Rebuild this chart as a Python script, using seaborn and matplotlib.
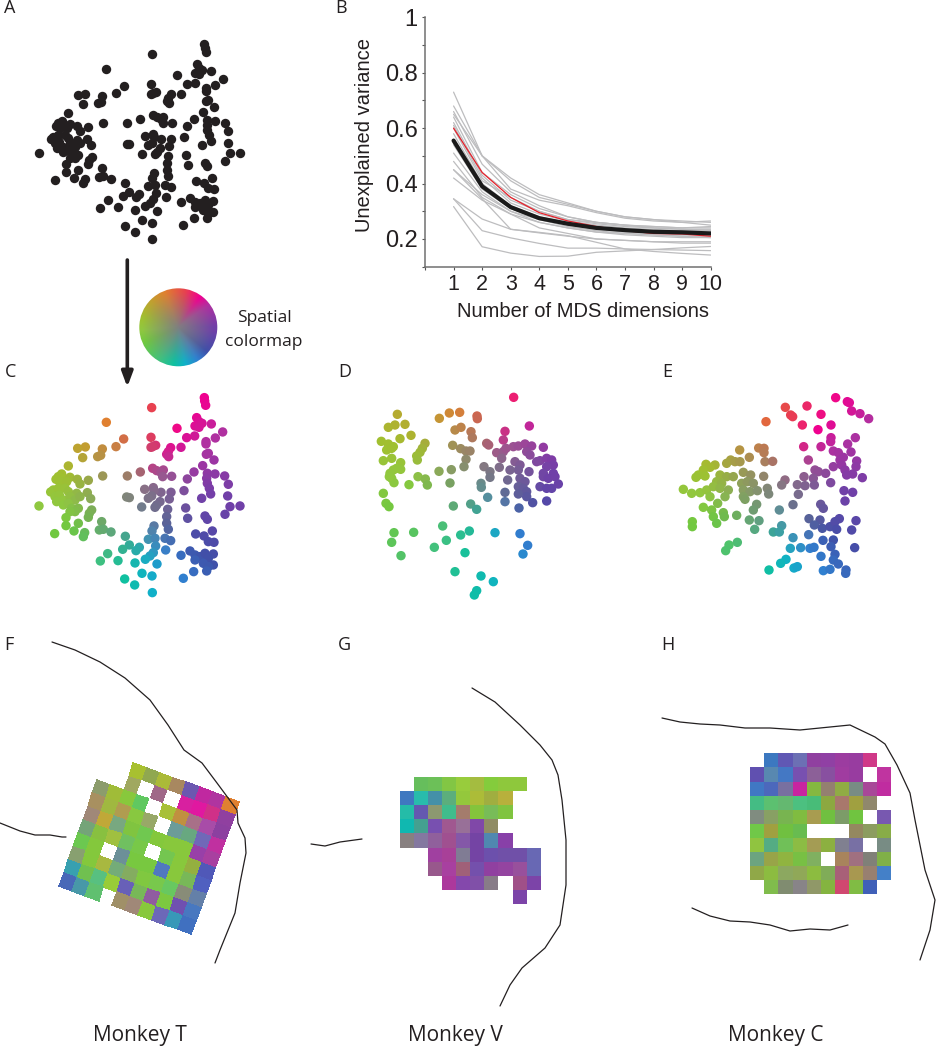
import numpy as np
import matplotlib
matplotlib.use("Agg")
import matplotlib.pyplot as plt
from matplotlib.colors import ListedColormap, to_rgb
from matplotlib.patches import Circle
from matplotlib.transforms import Affine2D
import seaborn as sns

W, H = 937, 1050

# ---------- Panel A / C neuron positions (same layout in both) ----------
points_a = [(613,133),(614,143),(617,156),(455,163),(319,207),(590,193),(597,205),(585,218),(597,222),(606,210),(634,212),(531,225),(668,236),(646,254),(584,248),(560,253),(453,252),(371,257),(618,265),(618,272),(348,280),(256,281),(233,285),(453,282),(467,276),(458,280),(307,287),(512,283),(543,282),(505,295),(500,303),(506,310),(293,310),(302,306),(248,313),(619,303),(625,300),(642,320),(205,338),(608,337),(458,345),(470,352),(490,350),(483,358),(488,370),(421,356),(582,356),(515,369),(382,368),(308,368),(622,360),(645,362),(674,368),(620,375),(562,377),
(185,362),(175,370),(168,378),(190,375),(210,372),(232,378),(240,392),(265,381),(180,385),(200,385),(160,410),(152,416),(175,405),(195,405),(205,415),(230,420),(262,418),(272,436),(165,430),(178,425),(170,445),(190,440),(210,430),(225,440),(240,430),(190,455),(205,450),(215,465),(235,465),(225,475),(210,475),(117,458),
(622,390),(628,405),(632,422),(685,393),(552,412),(683,428),(605,435),(434,408),(460,403),(483,417),(513,417),(508,437),(462,412),(455,428),(445,435),(380,431),(388,433),(480,445),(470,455),(465,462),(425,461),(557,464),(503,468),(690,460),(720,458),(675,483),(275,470),(268,480),(265,492),(198,493),(615,488),(622,498),(563,495),(500,490),(500,510),(505,528),(305,505),(235,510),(198,517),(462,518),(456,533),(298,530),(310,528),(333,536),(222,533),(254,538),(250,550),(164,541),(637,533),(587,542),(612,548),(376,549),(445,558),(465,555),(495,555),(512,562),(625,565),(642,567),(388,575),(368,588),(418,582),(408,592),(467,578),(497,590),(323,601),(460,598),(450,608),(436,618),(570,593),(543,606),(585,605),(600,610),(615,600),(640,602),(625,615),(585,620),(610,630),(640,635),(625,640),(301,623),(354,622),(405,629),(471,632),(620,653),(581,655),(426,660),(456,668),(550,675),(374,677),(404,695),(457,718)]

points_d = [(521,82),(172,133),(298,145),(328,129),(359,127),(411,138),(412,146),(568,168),(165,165),(145,172),(195,163),(345,180),(363,172),(393,185),(397,203),(495,184),(213,196),(180,206),(124,214),(145,222),(160,230),(140,240),(155,235),(490,210),(255,220),(247,235),(240,247),(230,258),(232,270),(338,226),(440,220),(446,225),(520,230),(535,228),(555,222),(575,228),(610,232),(362,236),(378,243),(390,243),(470,248),(490,245),(498,235),(560,245),(570,255),(378,268),(485,265),(600,272),(620,265),(635,270),(640,285),(620,290),(590,275),(525,275),(130,272),(155,265),(182,278),(170,295),(182,298),(160,300),(150,310),(155,325),(162,338),(148,320),(372,290),(432,290),(478,292),(540,285),(535,300),(450,305),(450,322),(567,305),(510,300),(297,304),(334,299),(610,310),(640,310),(610,320),(625,325),(645,320),(234,320),(256,327),(262,345),(207,344),(330,339),(423,340),(424,352),(503,330),(540,325),(555,335),(535,350),(550,355),(600,350),(620,355),(635,355),(655,342),(560,365),(495,367),(535,372),(130,370),(138,400),(147,410),(443,382),(495,395),(340,408),(392,402),(410,418),(560,380),(578,398),(620,393),(537,414),(162,488),(221,487),(155,517),(183,557),(308,468),(388,483),(362,495),(465,488),(540,491),(563,526),(319,511),(283,532),(375,548),(549,552),(345,605),(423,618),(460,635),(410,662),(403,675)]

points_e = [(527,83),(562,95),(568,98),(441,108),(376,112),(575,123),(600,131),(626,146),(483,133),(392,135),(398,140),(318,155),(427,165),(513,165),(474,179),(586,203),(513,203),(512,215),(563,222),(431,230),(483,230),(239,240),(296,234),(312,235),(312,248),(520,243),(535,248),(573,246),(268,262),(550,262),(540,270),(445,270),(138,283),(165,285),(150,292),(212,270),(200,280),(225,275),(240,275),(315,275),(338,274),(590,273),(520,290),(545,285),(588,290),(130,300),(115,315),(135,318),(108,322),(250,307),(465,300),(475,305),(497,310),(555,300),(560,315),(578,312),(607,323),(180,315),(170,335),(200,320),(220,320),(272,315),(311,319),(460,325),(432,320),(375,330),(365,345),(512,338),(245,340),(262,335),(280,340),(185,340),(70,358),(95,370),(120,368),(140,360),(160,350),(180,355),(205,360),(150,380),(195,380),(250,360),(270,365),(292,362),(322,355),(326,372),(250,380),(412,344),(435,347),(463,345),(552,362),(578,367),(415,373),(255,388),(555,393),(290,403),(280,420),(399,404),(482,403),(490,415),(130,412),(173,400),(155,420),(358,420),(160,440),(190,428),(193,440),(230,436),(170,460),(447,446),(480,450),(538,446),(268,450),(297,452),(365,467),(463,465),(487,475),(510,470),(525,455),(530,478),(588,452),(575,480),(97,455),(97,470),(284,478),(340,486),(358,486),(446,494),(399,503),(489,511),(520,510),(513,530),(232,517),(207,525),(197,542),(391,535),(422,533),(450,535),(462,532),(584,533),(525,553),(483,559),(378,568),(362,580),(520,570),(535,582),(327,600),(402,594),(412,590),(490,602),(510,598),(558,600),(557,610)]

# ---------- Panel B ----------
dimensions = [1,2,3,4,5,6,7,8,9,10]
grey_series = [
 [0.73,0.50,0.42,0.36,0.33,0.30,0.28,0.27,0.26,0.25],
 [0.68,0.50,0.38,0.34,0.32,0.295,0.275,0.265,0.26,0.265],
 [0.66,0.47,0.37,0.32,0.28,0.26,0.25,0.245,0.24,0.24],
 [0.64,0.44,0.36,0.31,0.28,0.26,0.25,0.24,0.235,0.23],
 [0.62,0.43,0.34,0.30,0.27,0.255,0.245,0.24,0.235,0.235],
 [0.61,0.42,0.33,0.29,0.265,0.25,0.24,0.235,0.23,0.23],
 [0.58,0.40,0.32,0.28,0.26,0.24,0.235,0.23,0.225,0.225],
 [0.56,0.39,0.31,0.275,0.255,0.24,0.23,0.225,0.22,0.22],
 [0.54,0.38,0.31,0.27,0.25,0.235,0.225,0.22,0.215,0.215],
 [0.51,0.37,0.30,0.27,0.245,0.23,0.22,0.215,0.21,0.21],
 [0.48,0.35,0.29,0.26,0.24,0.225,0.215,0.21,0.205,0.205],
 [0.45,0.36,0.30,0.26,0.24,0.225,0.22,0.215,0.21,0.205],
 [0.42,0.34,0.29,0.24,0.22,0.20,0.195,0.19,0.185,0.185],
 [0.65,0.50,0.41,0.35,0.325,0.30,0.28,0.27,0.265,0.26],
 [0.60,0.41,0.35,0.30,0.27,0.26,0.25,0.245,0.24,0.245],
 [0.45,0.345,0.235,0.222,0.21,0.20,0.195,0.19,0.19,0.19],
 [0.345,0.272,0.235,0.224,0.212,0.188,0.164,0.155,0.148,0.142],
 [0.345,0.23,0.204,0.184,0.167,0.167,0.164,0.162,0.16,0.158],
 [0.317,0.172,0.149,0.137,0.138,0.152,0.157,0.162,0.168,0.173],
]
red_series = [0.60,0.44,0.35,0.295,0.265,0.245,0.23,0.22,0.218,0.21]
black_series = [0.555,0.39,0.315,0.275,0.255,0.24,0.232,0.226,0.224,0.22]
y_ticks = [0.1,0.2,0.3,0.4,0.5,0.6,0.7,0.8,0.9,1.0]
y_tick_labels = ["","0.2","","0.4","","0.6","","0.8","","1"]
x_ticks = [0,1,2,3,4,5,6,7,8,9,10]
x_tick_labels = ["","1","2","3","4","5","6","7","8","9","10"]

# ---------- Cortical maps: colour of each electrode ('-' = no electrode) ----------
cells_f = [
 "- - A8C030 90A850 ABBA38 A88860 6C58B0 C028A0 B034A0 E08030",
 "- - A0A860 FFFFFF A06888 FFFFFF D820A0 E018A0 D03088 9040A0",
 "8C9C6C A0BC38 88C83C 60C860 FFFFFF A8C038 C09040 A87088 A84CA8 8C40A0",
 "A89060 A0B840 B09C50 88C840 98A868 FFFFFF 6C9C98 68A880 7068B8 C030A0",
 "A08878 C0A838 78A880 80C440 70C850 84C83C 88C83C 88C83C 9840A8 A840A0",
 "74A478 88C040 A0C040 70C060 78C848 FFFFFF 74C650 88C83C 94B040 5058B8",
 "6CC850 84C83C FFFFFF 6C9098 78C840 78C840 5078C0 88C83C 78B858 5060C0",
 "88A070 84C83C A8B840 74AC78 84AC60 80C840 78C84C 68C860 888C78 6480A8",
 "38A0B0 70C050 58C080 98CC38 6860B8 78B858 905CA0 7CC840 7050B0 4878C0",
 "4868B8 4898A8 60C070 - A09068 A08878 88C83C 6C68B8 3898B8 4070C0",
]
cells_g = [
 "- 66BE5C 6CC058 82C644 98CC3C A4BC40 84CC3C 8EC83C 8EC83C -",
 "3F78C0 28BCAC 4490A8 5CAE7C 94C83C ACBC38 A0AE40 B8B03C - -",
 "24BCA8 6458B0 8C9870 40BC8C A47C6C 84C43C 78BC58 80C440 - -",
 "10B8B0 44A090 7850B0 A05890 987098 8048A8 908C64 - - -",
 "888080 8478A0 90609C A05090 8458A8 7444A4 5088B0 8840A8 - -",
 "- - A040A0 A84098 807C94 7444A4 6C50AC 7050A8 7050A8 6868B4",
 "- - 98588C A840A0 A06078 7450AC 9040A0 9444A0 98509C 6868B4",
 "- - - AC389C 8448AC 8050A8 887C88 - A05088 7C44A8",
 "- - - - - - - - 7C44A8 -",
]
cells_h = [
 "- 3C78C0 6058B4 6C70B4 9040A0 9040A4 9C3CA0 983CA0 D03888 -",
 "6050B0 5888B0 4478C4 7850B0 8C6098 8850A0 A03CA0 983CA0 - C034A0",
 "4078C4 4C68BC 7870A0 C824A0 84B840 948070 90AC44 788C84 A84898 C02CA0",
 "44BC84 5CC070 64B870 4CC080 48BC78 8CA840 A8786C A0A040 90886C -",
 "808C80 88A064 78B450 80BC40 A89C50 70C040 7C9C68 70C440 - 7858B0",
 "70C848 A0A040 70C040 68BC50 - - - 948860 8C9C60 88AC48",
 "90C440 54AC84 70C058 8CBC44 A49C54 8CB040 808090 7870A4 - 788C84",
 "6CA480 98A448 90B440 78C044 80B060 - A8845C A07080 808078 80B048",
 "90A848 8CBC40 8CA860 90A858 8CBC40 80AC58 A86078 A89850 988070 4480C8",
 "- 80BC4C 808C70 888488 909868 84B440 D04870 80BC44 4060B8 -",
]

# ---------- Sulcus contours ----------
contour_f1 = [(52,642),(75,650),(100,662),(125,678),(150,700),(168,725),(184,750),(202,763),(217,783),(237,810),(238,823),(245,838),(246,853),(240,883),(235,913),(220,950),(215,963)]
contour_f2 = [(0,823),(20,831),(35,835),(50,835),(62,837),(66,837)]
contour_g1 = [(472,688),(495,702),(520,725),(540,745),(552,760),(558,775),(562,800),(566,840),(566,885),(560,925),(545,948),(522,968),(510,985),(500,1006)]
contour_g2 = [(311,844),(325,846),(340,842),(362,839)]
contour_h1 = [(662,718),(680,722),(700,724),(720,725),(745,728),(770,728),(800,730),(830,727),(850,725),(875,737),(885,744),(897,765),(910,793),(915,820),(925,870),(935,900),(930,930),(920,960)]
contour_h2 = [(692,908),(710,916),(730,921),(750,922),(770,925),(790,931),(810,929),(830,930),(848,925)]

# ---------- Spatial colour map anchors: angle in degrees, colour ----------
hue_angles = [0,36,54,78,110,136,165,185,205,242,264,281,301,320,355,360]
hue_colors = ["#7040A8","#B030A0","#F00090","#E84050","#E08030","#C0A030","#A0C030","#90C840",
              "#70C840","#40C080","#10C0A0","#10B0C8","#3080D0","#4050A8","#7040A8","#7040A8"]
centre_grey = np.array([0.5,0.5,0.5])

sns.set_theme(style="white")
plt.rcParams["font.family"] = ["Liberation Sans", "DejaVu Sans"]
TXT = "#231f20"
LABEL_FONT = "Open Sans"

def spatial_rgb(dx, dy, scale):
    dx, dy = np.asarray(dx, float), np.asarray(dy, float)
    ang = np.degrees(np.arctan2(dy, dx)) % 360
    rgb = np.array([to_rgb(c) for c in hue_colors])
    out = np.stack([np.interp(ang, hue_angles, rgb[:, i]) for i in range(3)], axis=-1)
    s = np.clip(np.hypot(dx, dy) / scale, 0, 1)[..., None]
    return centre_grey * (1 - s) + out * s

fig = plt.figure(figsize=(W/100, H/100), dpi=100, facecolor="white")

def px_axes(x, y, w, h, **kw):
    return fig.add_axes([x/W, 1-(y+h)/H, w/W, h/H], **kw)

def scatter_panel(x, y, w, h, pts, centre=None):
    ax = px_axes(x, y, w, h)
    xs = [p[0] for p in pts]; ys = [p[1] for p in pts]
    if centre is None:
        sns.scatterplot(x=xs, y=ys, color="#231f20", s=46, linewidth=0, ax=ax, legend=False)
    else:
        cols = spatial_rgb(np.array(xs)-centre[0], centre[1]-np.array(ys), 210)
        sns.scatterplot(x=xs, y=ys, hue=list(range(len(xs))), palette=[tuple(c) for c in cols],
                        s=46, linewidth=0, ax=ax, legend=False)
    ax.set_xlim(0, w*3); ax.set_ylim(h*3, 0)
    ax.axis("off")
    return ax

scatter_panel(0, 0, 320, 260, points_a)
scatter_panel(0, 353.3, 320, 260, points_a, centre=(400, 430))
scatter_panel(340, 370, 260, 240, points_d, centre=(420, 300))
scatter_panel(660, 370, 260, 240, points_e, centre=(345, 360))

# ---------- Panel B ----------
axb = px_axes(425, 17.3, 285.7, 249.4)
for s in grey_series:
    sns.lineplot(x=dimensions, y=s, color="#bdbdbf", lw=0.9, estimator=None, ax=axb)
sns.lineplot(x=dimensions, y=red_series, color="#e8202a", lw=0.9, estimator=None, ax=axb)
sns.lineplot(x=dimensions, y=black_series, color="#1a1a1a", lw=3.0, estimator=None, ax=axb)
axb.set_xlim(0, 10); axb.set_ylim(0.1, 1.0)
axb.set_xticks(x_ticks); axb.set_xticklabels(x_tick_labels)
axb.set_yticks(y_ticks); axb.set_yticklabels(y_tick_labels)
sns.despine(ax=axb)
for sp in ("left", "bottom"):
    axb.spines[sp].set_color("#707070"); axb.spines[sp].set_linewidth(1.1)
axb.tick_params(axis="both", length=2.2, width=0.8, color="#555555", labelsize=15.5, labelcolor=TXT,
                left=True, bottom=True, pad=3)
axb.tick_params(axis="y", labelsize=17, pad=3)
axb.set_xlabel("Number of MDS dimensions", fontsize=14.5, color=TXT)
axb.xaxis.set_label_coords((583-425)/285.7, 1-(311-17.3)/249.4, transform=axb.transAxes)
axb.xaxis.label.set_va("center")
axb.set_ylabel("Unexplained variance", fontsize=14.5, color=TXT)
axb.yaxis.set_label_coords((365-425)/285.7, 1-(135-17.3)/249.4, transform=axb.transAxes)
axb.yaxis.label.set_va("center")
axb.patch.set_alpha(0)

# ---------- Colour disc ----------
axd = px_axes(178.3-42, 327.3-42, 84, 84)
gx, gy = np.meshgrid(np.linspace(-42, 42, 300), np.linspace(42, -42, 300))
im = axd.imshow(spatial_rgb(gx, gy, 36), extent=(-42, 42, -42, 42), interpolation="bilinear")
im.set_clip_path(Circle((0, 0), 39, transform=axd.transData))
axd.axis("off")

# ---------- Cortical maps ----------
def cell_map(ax, rows):
    grid = [r.split() for r in rows]
    colours = sorted({c for r in grid for c in r if c != "-"})
    idx = np.array([[colours.index(c) if c != "-" else 0 for c in r] for r in grid], float)
    mask = np.array([[c == "-" for c in r] for r in grid])
    sns.heatmap(idx, mask=mask, cmap=ListedColormap(["#"+c for c in colours]), vmin=-0.5,
                vmax=len(colours)-0.5, cbar=False, xticklabels=False, yticklabels=False,
                square=False, linewidths=0, ax=ax)
    return ax.collections[0]

CELL = 14.1
axg = px_axes(399.7, 777, 10*CELL, 9*CELL)
cell_map(axg, cells_g); axg.axis("off")
axh = px_axes(750.3, 753.3, 10*CELL, 10*CELL)
cell_map(axh, cells_h); axh.axis("off")

fx, fy, fw, fh = 0, 700, 300, 300
ox, oy = 106.8, 753.7
axf = px_axes(fx, fy, fw, fh)
mesh = cell_map(axf, cells_f)
mesh.set_transform(Affine2D().rotate_deg(19.9) + axf.transData)
mesh.set_edgecolor("face"); mesh.set_linewidth(0.2)
axf.set_xlim((fx-ox)/CELL, (fx+fw-ox)/CELL)
axf.set_ylim((fy+fh-oy)/CELL, (fy-oy)/CELL)
axf.set_aspect("equal"); axf.axis("off")

# ---------- Overlay in page pixels: contours, arrow and text ----------
ov = px_axes(0, 0, W, H)
ov.patch.set_alpha(0)
for c in (contour_f1, contour_f2, contour_g1, contour_g2, contour_h1, contour_h2):
    sns.lineplot(x=[p[0] for p in c], y=[p[1] for p in c], sort=False, estimator=None,
                 color="#231f20", lw=0.9, ax=ov)
ov.annotate("", xy=(127.3, 387), xytext=(127.3, 260),
            arrowprops=dict(arrowstyle="-|>,head_width=0.28,head_length=0.75", lw=2.6, color="#231f20",
                            shrinkA=0, shrinkB=0))
for s, x, y in [("A",10,8),("B",341,8),("C",11,372),("D",345,372),("E",667,372),("F",9,645),("G",344,645),("H",668,645)]:
    ov.text(x, y, s, ha="center", va="center", fontsize=13, family=LABEL_FONT, color=TXT)
ov.text(264, 318, "Spatial", ha="center", va="center", fontsize=12.5, family=LABEL_FONT, color=TXT)
ov.text(264, 342, "colormap", ha="center", va="center", fontsize=12.5, family=LABEL_FONT, color=TXT)
for s, x in [("Monkey T",140),("Monkey V",455),("Monkey C",776)]:
    ov.text(x, 1036, s, ha="center", va="center", fontsize=15, family=LABEL_FONT, color=TXT)
ov.set_xlim(0, W); ov.set_ylim(H, 0); ov.axis("off")

fig.savefig("out.png", dpi=100, facecolor="white")
